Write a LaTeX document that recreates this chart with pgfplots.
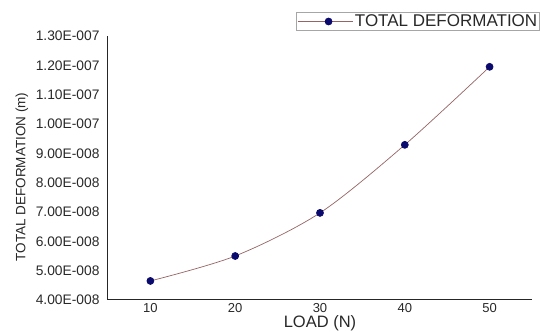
\documentclass[border=0pt]{standalone}
\usepackage{pgfplots}
\pgfplotsset{compat=1.18}
\usepackage{fontspec}
\setmainfont{Liberation Sans}
\definecolor{linec}{RGB}{150,100,100}
\definecolor{markc}{RGB}{10,10,110}
\definecolor{txt}{RGB}{40,40,40}
\begin{document}
\begin{tikzpicture}
\path[use as bounding box] (-108pt,-32pt) rectangle (433pt,300pt);
\begin{axis}[
  scale only axis,
  width=424pt, height=264pt,
  xmin=5, xmax=55,
  ymin=4e-8, ymax=1.3e-7,
  axis x line*=bottom,
  axis y line*=left,
  axis line style={black!85, line width=1pt, -},
  xtick={10,20,30,40,50},
  ytick={4e-8,5e-8,6e-8,7e-8,8e-8,9e-8,1e-7,1.1e-7,1.2e-7,1.3e-7},
  yticklabels={4.00E-008,5.00E-008,6.00E-008,7.00E-008,8.00E-008,9.00E-008,1.00E-007,1.10E-007,1.20E-007,1.30E-007},
  xticklabels={10,20,30,40,50},
  major tick length=0pt,
  tick label style={text=txt},
  yticklabel style={font=\fontsize{13.8}{15}\selectfont, xshift=-5pt},
  xticklabel style={font=\fontsize{13}{14}\selectfont, yshift=0pt},
  /pgf/number format/assume math mode=true,
  scaled y ticks=false,
  xlabel={LOAD (N)},
  ylabel={TOTAL DEFORMATION (m)},
  xlabel style={at={(axis description cs:0.5,-0.118)}, anchor=south, inner sep=0pt, font=\fontsize{16.5}{18}\selectfont, text=txt},
  ylabel style={at={(axis description cs:-0.203,0.466)}, anchor=center, rotate=0, font=\fontsize{13.5}{15}\selectfont, text=txt},
  legend style={at={(axis description cs:1.0189,1.0909)}, anchor=north east,
    draw=gray!70, line width=0.6pt, inner sep=0.5pt, font=\fontsize{17}{17}\selectfont, text=txt,
    cells={anchor=west}},
  legend image code/.code={
    \path (-9pt,0pt) -- (46pt,0pt);
    \draw[linec, line width=0.8pt] (0pt,0pt) -- (44pt,0pt);
    \fill[markc] (22pt,0pt) circle (3.5pt);
  },
  clip=false,
]
\addplot[color=linec, line width=0.7pt, smooth, mark=*, mark size=3.5pt, mark options={fill=markc, draw=markc}]
  coordinates {(10,4.65e-8) (20,5.50e-8) (30,6.97e-8) (40,9.29e-8) (50,11.95e-8)};
\addlegendentry{TOTAL DEFORMATION}
\end{axis}
\end{tikzpicture}
\end{document}
